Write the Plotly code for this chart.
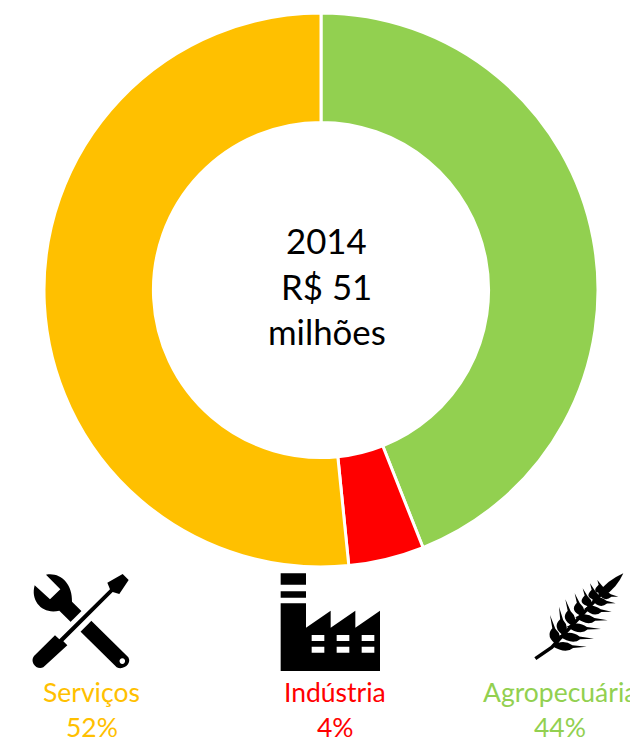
import plotly.graph_objects as go

W, H = 630, 738

# Data
sectors = ["Agropecuária", "Indústria", "Serviços"]
shares = [44, 4.4, 51.6]
share_labels = ["44%", "4%", "52%"]
colors = ["#92D050", "#FF0000", "#FFC000"]
center_lines = ["2014", "R$ 51", "milhões"]


def pt(x, y, ox=0, oy=0, s=1.0):
    return f"{(x * s + ox) / W:.5f},{1 - (y * s + oy) / H:.5f}"


def path(cmds, ox, oy, s=1 / 3):
    out = []
    for c in cmds:
        out.append(c[0] + " ".join(pt(c[i], c[i + 1], ox, oy, s) for i in range(1, len(c) - 1, 2)))
    return " ".join(out)


def solid(cmds, ox, oy, color="black"):
    return dict(type="path", path=path(cmds, ox, oy), xref="paper", yref="paper",
                fillcolor=color, line=dict(width=0), layer="above")


def stroke(cmds, ox, oy, width, color="black"):
    return dict(type="path", path=path(cmds, ox, oy), xref="paper", yref="paper",
                line=dict(color=color, width=width), layer="above")


shapes = []

# Wrench + screwdriver (crop coordinates, 3x, origin 0,560)
ox, oy = 0, 560
shapes.append(solid([
    ("M", 138, 44), ("C", 180, 36, 218, 70, 216, 125), ("L", 385, 292),
    ("C", 396, 310, 372, 332, 350, 322), ("L", 178, 152),
    ("C", 130, 165, 90, 125, 104, 76), ("L", 150, 118), ("L", 181, 88), ("Z",),
    ("M", 367, 295), ("C", 378, 295, 378, 312, 367, 312), ("C", 356, 312, 356, 295, 367, 295), ("Z",),
], ox, oy))
shapes.append(stroke([("M", 175, 252), ("L", 285, 142)], ox, oy, 14, "white"))
shapes.append(solid([
    ("M", 165, 226), ("L", 178, 238), ("L", 330, 88), ("L", 322, 68), ("L", 368, 42), ("L", 386, 60),
    ("L", 358, 102), ("L", 338, 96), ("L", 190, 244), ("L", 202, 256), ("L", 130, 322),
    ("C", 110, 332, 88, 306, 102, 288), ("Z",),
], ox, oy))

# Factory (origin 240,560)
ox, oy = 240, 560
shapes.append(solid([
    ("M", 122, 40), ("L", 198, 40), ("L", 198, 74), ("L", 122, 74), ("Z",),
    ("M", 122, 94), ("L", 198, 94), ("L", 198, 113), ("L", 122, 113), ("Z",),
    ("M", 122, 130), ("L", 198, 130), ("L", 198, 203), ("L", 272, 152), ("L", 272, 203),
    ("L", 346, 152), ("L", 346, 203), ("L", 420, 152), ("L", 420, 333), ("L", 122, 333), ("Z",),
] + [c for x0 in (215, 290, 365) for y0 in (225, 260) for c in (
    ("M", x0, y0), ("L", x0 + 38, y0), ("L", x0 + 38, y0 + 18), ("L", x0, y0 + 18), ("Z",))], ox, oy))

# Wheat (origin 470,560)
ox, oy = 470, 560
shapes.append(stroke([("M", 196, 296), ("L", 245, 262), ("L", 400, 95)], ox, oy, 3.5))
shapes.append(solid([("M", 384, 100), ("Q", 410, 62, 460, 40), ("Q", 440, 85, 402, 108), ("Z",)], ox, oy))
up = [((262, 256), (240, 165)), ((282, 228), (267, 140)), ((308, 198), (286, 118)),
      ((335, 168), (314, 100)), ((358, 140), (338, 85)), ((378, 120), (360, 70)), ((398, 100), (382, 60))]
right = [((246, 258), (350, 260)), ((266, 228), (372, 236)), ((290, 200), (393, 207)),
         ((316, 172), (413, 181)), ((343, 146), (425, 155)), ((366, 120), (437, 130)), ((386, 100), (445, 110))]
for (bx, by), (tx, ty) in up:
    mx, my = bx + (tx - bx) * 0.5, by + (ty - by) * 0.5
    shapes.append(solid([("M", bx, by), ("Q", bx - 38, my + 18, mx - 4, my - 6), ("L", tx, ty),
                         ("L", mx + 5, my - 4), ("Q", bx + 18, my + 18, bx, by), ("Z",)], ox, oy))
for (bx, by), (tx, ty) in right:
    mx, my = bx + (tx - bx) * 0.55, by + (ty - by) * 0.55
    shapes.append(solid([("M", bx, by), ("Q", mx - 16, my + 24, mx + 6, my + 5), ("L", tx, ty),
                         ("L", mx + 4, my - 3), ("Q", mx - 24, my - 24, bx, by), ("Z",)], ox, oy))

annotations = []
for txt, y in zip(center_lines, [241, 286, 331]):
    annotations.append(dict(text=txt, x=326.5 / W, y=1 - y / H, xref="paper", yref="paper", showarrow=False,
                            xanchor="center", yanchor="middle", font=dict(family="Lato", size=34.8, color="black")))

label_x = {"Serviços": 91.5, "Indústria": 335, "Agropecuária": 560}
for name, share, col in zip(sectors, share_labels, colors):
    for txt, y in ((name, 692), (share, 727)):
        annotations.append(dict(text=txt, x=label_x[name] / W, y=1 - y / H, xref="paper", yref="paper",
                                showarrow=False, xanchor="center", yanchor="middle",
                                font=dict(family="Lato", size=26.5, color=col)))

fig = go.Figure(go.Pie(
    labels=sectors, values=shares, sort=False, direction="clockwise", rotation=0, hole=0.605,
    marker=dict(colors=colors, line=dict(color="white", width=3)), textinfo="none", hoverinfo="label+percent",
    showlegend=False, domain=dict(x=[44 / W, 598 / W], y=[1 - 567 / H, 1 - 13 / H]),
))
fig.update_layout(width=W, height=H, margin=dict(l=0, r=0, t=0, b=0), paper_bgcolor="white",
                  shapes=shapes, annotations=annotations, showlegend=False)
fig.write_html("out.html", config=dict(displayModeBar=False),
               post_script="document.body.style.margin='0';document.documentElement.style.overflow='hidden';")
